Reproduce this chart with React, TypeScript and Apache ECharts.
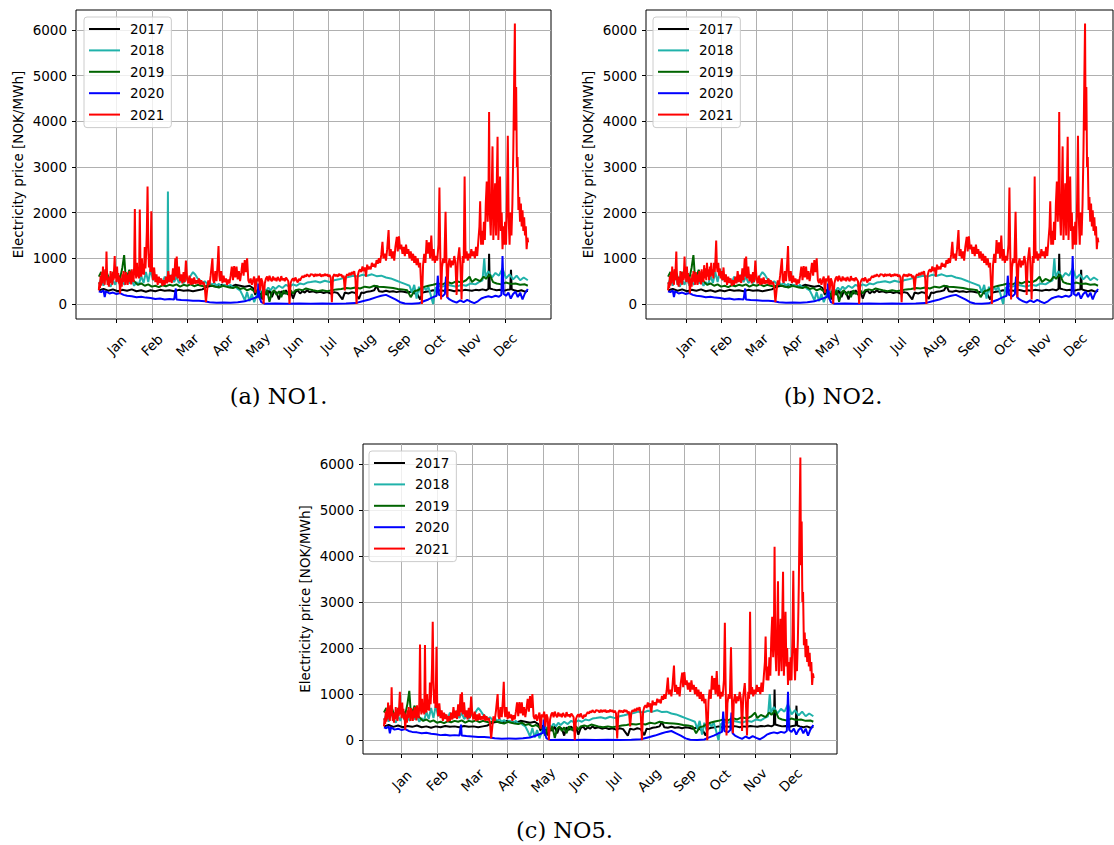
import React, { useEffect, useRef } from "react";
import * as echarts from "echarts";

type Pt = [number, number];

// ---------- tick labels & categories ----------
const monthLabels = ["Jan", "Feb", "Mar", "Apr", "May", "Jun", "Jul", "Aug", "Sep", "Oct", "Nov", "Dec"];
const monthTickDays = [15, 45, 75, 105, 135, 165, 195, 225, 255, 285, 315, 345];
const priceTicks = [0, 1000, 2000, 3000, 4000, 5000, 6000];
const years = ["2017", "2018", "2019", "2020", "2021"];
const yearColors = ["#000000", "#20b2aa", "#006400", "#0000ff", "#ff0000"];

// ---------- data: [day of year, NOK/MWh] ----------
const price2017: Pt[] = [
  [0, 300], [4, 330], [8, 290], [12, 320], [16, 280], [20, 310], [24, 290], [28, 320], [32, 280], [36, 300],
  [40, 270], [44, 300], [48, 280], [52, 310], [56, 290], [60, 300], [64, 280], [68, 310], [72, 290], [76, 300],
  [80, 280], [84, 300], [88, 320], [92, 380], [96, 400], [100, 380], [104, 420], [108, 400], [112, 380], [116, 420],
  [120, 400], [124, 380], [128, 400], [131, 350], [133, 200], [135, 320], [137, 280], [139, 100], [141, 280], [143, 200],
  [145, 300], [147, 150], [149, 280], [151, 250], [153, 100], [155, 280], [157, 220], [159, 300], [161, 200], [163, 280],
  [165, 120], [167, 260], [169, 300], [171, 230], [173, 280], [175, 250], [177, 300], [179, 260], [182, 280], [185, 250],
  [188, 270], [191, 240], [194, 260], [197, 230], [200, 260], [203, 240], [207, 100], [209, 250], [212, 230], [215, 260],
  [218, 240], [221, 110], [223, 250], [225, 240], [228, 270], [231, 280], [234, 300], [236, 400], [238, 280], [241, 270],
  [244, 290], [247, 270], [250, 280], [253, 260], [256, 280], [259, 270], [262, 250], [265, 270], [268, 240], [271, 200],
  [273, 100], [275, 250], [278, 270], [281, 280], [284, 300], [287, 280], [290, 300], [293, 290], [296, 310], [299, 300],
  [302, 280], [305, 300], [308, 290], [311, 310], [314, 300], [317, 290], [320, 310], [323, 300], [326, 320], [329, 300],
  [331, 330], [331.6, 1100], [332.2, 340], [335, 320], [338, 300], [341, 310], [344, 290], [347, 310], [349.5, 320], [350.2, 750],
  [350.8, 320], [353, 300], [356, 280], [359, 300], [362, 270], [364.5, 290],
];

const price2018: Pt[] = [
  [0, 430], [2, 560], [4, 400], [6, 620], [8, 450], [10, 380], [12, 520], [14, 420], [16, 600], [18, 400],
  [20, 480], [22, 420], [24, 650], [26, 450], [28, 520], [30, 400], [32, 480], [34, 420], [36, 620], [38, 460],
  [40, 700], [42, 480], [44, 760], [46, 520], [48, 640], [50, 480], [52, 560], [54, 460], [56, 600], [58, 480],
  [60, 520], [62, 640], [64, 480], [66, 600], [68, 460], [70, 520], [72, 460], [74, 560], [76, 500], [78, 620],
  [80, 700], [82, 640], [84, 560], [86, 520], [88, 460], [90, 500], [92, 440], [94, 480], [96, 420], [98, 460],
  [100, 400], [102, 440], [104, 380], [106, 420], [108, 400], [110, 380], [112, 420], [114, 360], [116, 380], [118, 330],
  [120, 300], [122, 200], [124, 80], [126, 260], [128, 60], [130, 220], [132, 40], [134, 180], [136, 300], [138, 250],
  [140, 340], [142, 280], [144, 360], [146, 300], [148, 380], [150, 330], [153, 400], [156, 350], [159, 420], [162, 380],
  [165, 430], [168, 400], [171, 450], [174, 430], [177, 470], [180, 480], [184, 500], [188, 470], [192, 510], [196, 480],
  [200, 520], [204, 540], [208, 570], [212, 590], [216, 620], [220, 600], [224, 640], [228, 620], [232, 650], [236, 610],
  [240, 620], [244, 580], [248, 560], [252, 520], [256, 480], [260, 440], [264, 400], [266, 250], [268, 420], [270, 120],
  [272, 380], [274, 200], [276, 380], [278, 300], [280, 380], [282, 200], [284, 0], [286, 350], [289, 400], [292, 380],
  [296, 420], [300, 400], [304, 380], [308, 420], [312, 400], [316, 450], [320, 430], [323, 480], [326, 520], [327.5, 1000],
  [328.5, 600], [331, 720], [334, 580], [337, 680], [340, 620], [343, 780], [346, 560], [349, 650], [352, 540], [355, 620],
  [358, 520], [361, 580], [364.5, 520],
];
const price2018SpikeNO1: Pt[] = [[58.3, 500], [58.7, 2460], [59.1, 500]];

const price2019: Pt[] = [
  [0, 600], [2, 700], [4, 550], [6, 750], [8, 600], [10, 500], [12, 700], [14, 600], [16, 650], [18, 550],
  [20, 800], [21.5, 1070], [22.5, 700], [24, 600], [26, 750], [28, 550], [30, 500], [33, 420], [36, 450], [39, 400],
  [42, 430], [45, 380], [48, 400], [51, 370], [54, 410], [57, 390], [60, 420], [63, 400], [66, 430], [69, 380],
  [72, 420], [75, 400], [78, 430], [81, 390], [84, 420], [87, 400], [90, 380], [93, 420], [96, 400], [99, 380],
  [102, 360], [105, 400], [108, 380], [111, 360], [114, 350], [117, 380], [120, 330], [123, 350], [126, 300], [129, 330],
  [132, 280], [135, 250], [137, 100], [139, 280], [141, 200], [143, 300], [145, 50], [147, 250], [149, 300], [151, 200],
  [153, 280], [155, 150], [157, 300], [159, 220], [161, 260], [163, 300], [165, 230], [167, 300], [170, 320], [173, 300],
  [176, 340], [179, 320], [182, 300], [186, 280], [190, 300], [194, 280], [198, 300], [202, 320], [206, 330], [210, 350],
  [214, 340], [218, 360], [222, 340], [226, 380], [230, 360], [234, 400], [238, 380], [242, 370], [246, 360], [250, 350],
  [254, 330], [258, 320], [262, 300], [265, 150], [268, 280], [271, 300], [274, 350], [277, 380], [280, 400], [284, 420],
  [288, 450], [292, 430], [296, 480], [300, 450], [304, 500], [308, 470], [312, 520], [315, 600], [317, 480], [320, 550],
  [324, 500], [327, 600], [329, 550], [332, 650], [335, 480], [338, 450], [342, 430], [346, 470], [350, 440], [354, 450],
  [358, 420], [362, 430], [364.5, 400],
];

const price2020: Pt[] = [
  [0, 280], [2, 260], [4, 300], [5, 150], [6, 280], [9, 230], [12, 250], [15, 220], [18, 240], [21, 200],
  [24, 180], [28, 170], [32, 150], [36, 160], [40, 140], [44, 130], [48, 110], [52, 120], [56, 100], [60, 110],
  [64, 100], [65.4, 340], [66, 100], [70, 90], [75, 80], [80, 70], [85, 70], [90, 60], [94, 40], [100, 30],
  [106, 35], [112, 30], [118, 40], [124, 60], [128, 90], [132, 130], [135, 160], [135.6, 450], [136.5, 150], [138, 40],
  [141, 5], [150, 10], [160, 5], [170, 10], [180, 5], [190, 10], [200, 5], [210, 10], [218, 20], [224, 60],
  [230, 100], [236, 150], [240, 180], [244, 200], [248, 150], [252, 100], [256, 40], [260, 10], [266, 5], [272, 15],
  [276, 60], [280, 100], [284, 150], [287, 180], [288, 620], [289, 200], [292, 170], [294, 220], [295, 600], [296, 150],
  [298, 100], [301, 60], [304, 30], [307, 80], [310, 40], [313, 90], [316, 50], [319, 20], [322, 60], [325, 120],
  [328, 150], [331, 170], [334, 150], [337, 180], [340, 160], [342, 200], [343, 1050], [344, 220], [346, 180], [348, 250],
  [350, 120], [352, 220], [354, 270], [356, 150], [358, 250], [360, 100], [362, 230], [364.5, 330],
];

const price2021EarlyNO1: Pt[] = [
  [0, 300], [0.5, 480], [1, 350], [1.5, 620], [2, 400], [2.5, 700], [3, 450], [3.5, 820], [4, 500], [4.5, 650],
  [5, 420], [5.5, 760], [6, 520], [6.5, 1150], [7, 620], [7.5, 420], [8, 560], [8.5, 380], [9, 600], [9.5, 450],
  [10, 720], [10.5, 480], [11, 640], [11.5, 420], [12, 700], [12.5, 520], [13.5, 1050], [14, 560], [14.5, 700], [15, 480],
  [15.5, 820], [16, 560], [16.5, 680], [17, 450], [17.5, 600], [18, 230], [18.5, 420], [19, 560], [19.5, 380], [20, 650],
  [20.5, 480], [21, 720], [21.5, 500], [22, 640], [22.5, 420], [23, 700], [23.5, 500], [24, 580], [24.5, 420], [25, 650],
  [25.5, 480], [26, 720], [26.5, 500], [27, 600], [27.5, 430], [28, 760], [28.5, 520], [29, 650], [29.5, 480], [30, 820],
  [30.6, 2080], [31.2, 700], [31.8, 560], [32.4, 900], [33, 600], [33.6, 780], [34.2, 560], [34.8, 2070], [35.4, 760], [36, 600],
  [36.6, 1000], [37.2, 650], [37.8, 880], [38.4, 640], [39, 1250], [39.6, 780], [40.2, 1100], [40.8, 1600], [41.4, 2570], [42, 1300],
  [42.6, 800], [43.2, 1100], [43.8, 700], [44.6, 2030], [45.2, 800],
];

const price2021EarlyNO2: Pt[] = [
  [0, 300], [0.5, 480], [1, 350], [1.5, 620], [2, 400], [2.5, 700], [3, 450], [3.5, 820], [4, 500], [4.5, 650],
  [5, 420], [5.5, 760], [6, 520], [7, 1150], [7.5, 620], [8, 420], [8.5, 560], [9, 380], [9.5, 600], [10, 450],
  [10.5, 720], [11, 480], [11.5, 640], [12, 420], [12.5, 700], [13.2, 520], [14, 1040], [14.6, 560], [15, 700], [15.5, 480],
  [16, 820], [16.5, 560], [17, 680], [17.5, 450], [18, 600], [18.5, 230], [19, 420], [19.5, 560], [20, 380], [20.5, 650],
  [21, 480], [21.5, 720], [22, 500], [22.5, 640], [23, 420], [23.5, 700], [24, 500], [24.5, 580], [25, 420], [25.5, 650],
  [26, 480], [26.5, 720], [27, 500], [27.5, 600], [28, 430], [28.5, 760], [29, 520], [29.5, 650], [30, 480], [30.6, 850],
  [31.2, 560], [31.8, 780], [32.4, 520], [33, 900], [33.6, 600], [34.2, 760], [34.8, 520], [35.4, 820], [36, 600], [36.6, 900],
  [37.2, 620], [37.8, 760], [38.4, 560], [39, 900], [39.6, 700], [40.2, 1000], [40.8, 1390], [41.4, 820], [42, 700], [42.6, 900],
  [43.2, 620], [43.8, 780], [44.6, 560], [45.2, 720],
];

const price2021Rest: Pt[] = [
  [46, 520], [47, 800], [48, 480], [49, 650], [50, 420], [51, 600], [52, 460], [53, 560], [54, 400], [55, 520],
  [56, 420], [57, 600], [58, 450], [59, 720], [60, 480], [61, 640], [62, 460], [63, 780], [64, 520], [65, 1000],
  [65.6, 600], [66.2, 1040], [67, 560], [68, 820], [69, 500], [70, 650], [71, 450], [72, 700], [73, 480], [74, 950],
  [75, 560], [76, 450], [77, 620], [78, 420], [79, 560], [80, 430], [81, 580], [82, 440], [83, 520], [84, 450],
  [85, 560], [86, 420], [87, 520], [88, 430], [89, 480], [90, 380], [91, 40], [92, 300], [93, 520], [94, 420],
  [95, 620], [96.5, 1000], [97.2, 520], [98, 460], [99, 720], [100, 500], [101, 900], [101.7, 1270], [102.4, 620], [103, 500],
  [104, 720], [105, 460], [106, 620], [107, 480], [108, 560], [109, 420], [110, 540], [111, 450], [112, 620], [113, 820],
  [114, 520], [115, 830], [116, 580], [117, 820], [118, 540], [119, 720], [120, 500], [121, 680], [122, 900], [123, 620],
  [124, 960], [125, 700], [126, 1000], [127, 520], [128, 460], [129, 560], [130, 420], [131, 520], [132, 600], [133, 250],
  [134, 560], [135, 500], [136, 620], [137, 300], [138, 560], [139, 480], [140, 0], [141, 450], [142, 560], [143, 600],
  [144, 500], [145, 620], [146, 540], [147, 500], [148, 600], [149, 520], [150, 570], [151, 500], [152, 590], [153, 540],
  [154, 500], [155, 610], [156, 520], [157, 560], [158, 500], [159, 580], [160, 540], [161, 500], [162, 0], [163, 460],
  [164, 530], [165, 560], [166, 500], [167, 580], [168, 520], [169, 470], [170, 550], [171, 510], [172, 570], [173, 610],
  [174, 580], [175, 630], [176, 600], [177, 650], [178, 620], [179, 600], [180, 650], [182, 640], [183, 600], [184, 660],
  [185, 610], [186, 650], [187, 620], [188, 660], [189, 600], [190, 640], [191, 610], [192, 660], [193, 620], [194, 650],
  [195, 600], [196, 640], [197, 580], [198, 40], [199, 600], [200, 650], [201, 610], [202, 640], [203, 600], [204, 660],
  [205, 620], [206, 650], [207, 580], [208, 620], [209, 300], [210, 600], [211, 650], [212, 620], [213, 680], [214, 630],
  [215, 700], [216, 650], [217, 720], [218, 560], [219, 0], [220, 620], [221, 720], [222, 760], [223, 700], [224, 820],
  [225, 720], [226, 800], [227, 600], [228, 860], [229, 760], [230, 820], [231, 760], [232, 900], [233, 820], [234, 880],
  [235, 800], [236, 960], [237, 880], [238, 1000], [239, 900], [240, 1080], [241, 1360], [241.8, 1000], [243, 1100], [244, 950],
  [245, 1200], [246.2, 1620], [247, 1050], [248, 1200], [249, 1000], [250, 1150], [251, 950], [252, 1250], [253.2, 1470], [254, 1150],
  [255, 1480], [256, 1200], [257, 1300], [258, 1100], [259, 1250], [260, 1050], [261, 1300], [262, 1100], [263, 1200], [264, 1000],
  [265, 1150], [266, 950], [267, 1100], [268, 900], [269, 1050], [270, 850], [271, 1000], [272, 800], [273, 900], [274.5, 0],
  [275.5, 850], [276.5, 1100], [277.5, 900], [278.5, 1400], [279.5, 1100], [280.5, 1350], [281.5, 1000], [282.5, 1500], [283.5, 950], [284.5, 1200],
  [285.5, 900], [286.5, 1050], [287.5, 950], [288.6, 1300], [289.4, 2550], [290, 1300], [290.8, 100], [291.6, 800], [292.6, 1000], [293.6, 900],
  [294.6, 2020], [295.4, 900], [296.2, 150], [297, 850], [298, 1000], [299, 800], [300, 950], [301, 850], [302, 1050], [303, 900],
  [304, 200], [305, 950], [306.3, 1240], [307.2, 850], [308.2, 100], [309.2, 1050], [310, 900], [310.8, 2790], [311.6, 1000], [312.5, 1150],
  [313.5, 950], [314.5, 1100], [315.5, 1000], [316.5, 1200], [317.5, 1050], [318.5, 1150], [319.5, 1000], [320.5, 1250], [321.5, 1050], [322.5, 1400],
  [323.4, 1700], [324, 2250], [324.8, 1300], [325.6, 1600], [326.4, 1300], [327.2, 1800], [328, 1400], [328.8, 2200], [329.6, 2680], [330.4, 1800],
  [331.1, 2500], [331.6, 4200], [332.2, 2000], [333, 1500], [333.8, 2400], [334.5, 3450], [335.2, 1400], [336, 2000], [336.7, 2640], [337.5, 1500],
  [338.1, 2600], [338.8, 3660], [339.5, 1400], [340.2, 2000], [340.9, 2790], [341.6, 1600], [342.3, 2000], [343, 1200], [343.7, 1700], [344.4, 1300],
  [345.2, 1800], [346, 1300], [346.8, 2300], [347.5, 3680], [348.2, 1900], [349, 1300], [349.8, 2000], [350.6, 1500], [351.4, 2200], [352.2, 3400],
  [352.8, 4750], [353.5, 6140], [354, 3800], [354.6, 4750], [355.2, 3000], [355.8, 3220], [356.5, 2060], [357.2, 2340], [357.9, 1800], [358.6, 2200],
  [359.3, 1700], [360, 2050], [360.7, 1600], [361.4, 1900], [362.1, 1500], [362.8, 1700], [363.5, 1200], [364.2, 1450], [364.8, 1350],
];

const byDay = (pts: Pt[]): Pt[] => [...pts].sort((a, b) => a[0] - b[0]);

const regionSeries: Record<string, Pt[][]> = {
  NO1: [price2017, byDay(price2018.concat(price2018SpikeNO1)), price2019, price2020, price2021EarlyNO1.concat(price2021Rest)],
  NO2: [price2017, price2018, price2019, price2020, price2021EarlyNO2.concat(price2021Rest)],
  NO5: [price2017, price2018, price2019, price2020, price2021EarlyNO1.concat(price2021Rest)],
};

// ---------- layout ----------
const panels = [
  { region: "NO1", caption: "(a) NO1.", left: 76, top: 10, width: 475, height: 309, xMin: -19.4, xMax: 384.2, yMin: -328, yMax: 6435, legendLeft: 84, legendTop: 17, capX: 278.5, capY: 396 },
  { region: "NO2", caption: "(b) NO2.", left: 646, top: 10, width: 467, height: 309, xMin: -18.7, xMax: 377.2, yMin: -328, yMax: 6435, legendLeft: 653, legendTop: 17, capX: 833, capY: 396 },
  { region: "NO5", caption: "(c) NO5.", left: 363, top: 444, width: 474, height: 310, xMin: -17.8, xMax: 384.6, yMin: -300, yMax: 6434, legendLeft: 369, legendTop: 451, capX: 564.5, capY: 829.5 },
];

const FONT = "DejaVu Sans";

export default function App() {
  const ref = useRef<HTMLDivElement>(null);
  useEffect(() => {
    if (!ref.current) return;
    const chart = echarts.init(ref.current, null, { renderer: "svg" });
    const option: any = {
      animation: false,
      backgroundColor: "#ffffff",
      textStyle: { fontFamily: FONT },
      grid: panels.map((p) => ({
        left: p.left, top: p.top, width: p.width, height: p.height,
        show: true, borderColor: "#000000", borderWidth: 1, backgroundColor: "transparent",
        containLabel: false, outerBoundsMode: "none",
      })),
      xAxis: panels.map((p, i) => ({
        type: "value", gridIndex: i, min: p.xMin, max: p.xMax, position: "bottom",
        axisLine: { show: false, onZero: false },
        axisTick: { show: true, length: 4, inside: false, customValues: monthTickDays, lineStyle: { color: "#000", width: 1 } },
        axisLabel: {
          customValues: monthTickDays,
          formatter: (v: number) => monthLabels[monthTickDays.indexOf(Math.round(v))] ?? "",
          rotate: 45, align: "center", verticalAlign: "middle", margin: 26,
          fontSize: 13.5, color: "#000", fontFamily: FONT,
        },
        splitLine: { show: true, lineStyle: { color: "#b0b0b0", width: 1 } },
      })),
      yAxis: panels.map((p, i) => ({
        type: "value", gridIndex: i, min: p.yMin, max: p.yMax, position: "left",
        axisLine: { show: false, onZero: false },
        axisTick: { show: true, length: 4, inside: false, customValues: priceTicks, lineStyle: { color: "#000", width: 1 } },
        axisLabel: { customValues: priceTicks, formatter: (v: number) => String(Math.round(v)), margin: 9, fontSize: 13.5, color: "#000", fontFamily: FONT },
        splitLine: { show: true, lineStyle: { color: "#b0b0b0", width: 1 } },
        name: "Electricity price [NOK/MWh]", nameLocation: "middle", nameGap: 51,
        nameTextStyle: { fontSize: 13.5, color: "#000", fontFamily: FONT },
      })),
      legend: panels.map((p) => ({
        data: years, orient: "vertical", left: p.legendLeft, top: p.legendTop,
        padding: [5, 7, 6, 5], itemWidth: 31, itemHeight: 2, icon: "rect", itemGap: 7.4,
        selectedMode: false,
        backgroundColor: "rgba(255,255,255,0.8)", borderColor: "#cccccc", borderWidth: 1, borderRadius: 3,
        textStyle: { fontSize: 13.5, color: "#000", fontFamily: FONT, lineHeight: 14, padding: [0, 0, 0, 5] },
      })),
      series: panels.flatMap((p, i) =>
        regionSeries[p.region].map((data, k) => ({
          type: "line", name: years[k], xAxisIndex: i, yAxisIndex: i, data,
          showSymbol: false, symbol: "none", color: yearColors[k],
          lineStyle: { color: yearColors[k], width: 2 },
          itemStyle: { color: yearColors[k] },
          silent: true, clip: true,
        }))
      ),
      graphic: panels.map((p) => ({
        type: "text", x: p.capX, y: p.capY,
        style: { text: p.caption, fill: "#000", font: "22.5px 'DejaVu Serif'", align: "center", verticalAlign: "middle", textAlign: "center", textVerticalAlign: "middle" },
      })),
    };
    chart.setOption(option);
    return () => chart.dispose();
  }, []);
  return <div ref={ref} style={{ position: "absolute", left: 0, top: 0, width: 1114, height: 845 }} />;
}
